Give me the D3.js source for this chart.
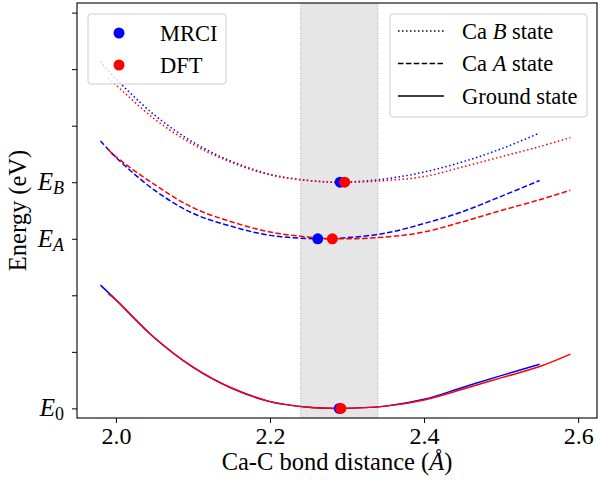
<!DOCTYPE html>
<html lang="en">
<head>
  <meta charset="UTF-8">
  <title>Ca-C potential energy curves</title>
  <script src="https://d3js.org/d3.v7.min.js"></script>
  <style>
    body { margin: 0; background: #ffffff; }
    svg text { font-family: "Liberation Serif", "Times New Roman", serif; fill: #000; }
  </style>
</head>
<body>
<svg width="598" height="480"></svg>

<script>
  // bond distance (Å) and energy (in tick units: E0 = 0, EA = 3, EB = 4)
  const groundMrciX = [1.98, 2.00, 2.05, 2.10, 2.15, 2.20, 2.25, 2.29, 2.35, 2.40, 2.45, 2.50, 2.55];
  const groundMrciY = [2.18, 1.92, 1.25, 0.73, 0.36, 0.12, 0.02, 0.00, 0.04, 0.16, 0.37, 0.58, 0.78];
  const groundDftX = [1.99, 2.00, 2.05, 2.10, 2.15, 2.20, 2.25, 2.29, 2.35, 2.40, 2.45, 2.50, 2.55, 2.59];
  const groundDftY = [2.03, 1.92, 1.25, 0.73, 0.36, 0.12, 0.02, 0.00, 0.04, 0.15, 0.34, 0.54, 0.74, 0.96];

  const aMrciX = [1.98, 2.00, 2.05, 2.10, 2.15, 2.20, 2.262, 2.30, 2.35, 2.40, 2.45, 2.50, 2.55];
  const aMrciY = [4.73, 4.44, 3.86, 3.45, 3.22, 3.06, 3.00, 3.02, 3.10, 3.27, 3.48, 3.75, 4.03];
  const aDftX = [1.99, 2.00, 2.05, 2.10, 2.15, 2.20, 2.25, 2.281, 2.35, 2.40, 2.45, 2.50, 2.55, 2.59];
  const aDftY = [4.58, 4.45, 3.96, 3.55, 3.30, 3.12, 3.03, 3.00, 3.03, 3.12, 3.30, 3.50, 3.69, 3.86];

  const bMrciX = [1.98, 2.00, 2.05, 2.10, 2.15, 2.20, 2.25, 2.291, 2.35, 2.40, 2.45, 2.50, 2.55];
  const bMrciY = [6.13, 5.83, 5.19, 4.71, 4.37, 4.14, 4.03, 4.00, 4.06, 4.18, 4.36, 4.59, 4.87];
  const bDftX = [1.99, 2.00, 2.05, 2.10, 2.15, 2.20, 2.25, 2.297, 2.35, 2.40, 2.45, 2.50, 2.55, 2.59];
  const bDftY = [5.84, 5.72, 5.12, 4.67, 4.35, 4.13, 4.03, 4.00, 4.03, 4.10, 4.27, 4.45, 4.63, 4.79];

  // minima
  const minMrciX = [2.290, 2.262, 2.291];
  const minMrciY = [0, 3, 4];
  const minDftX = [2.292, 2.281, 2.297];
  const minDftY = [0, 3, 4];

  const spanX = [2.24, 2.34];
  const xTicks = [2.0, 2.2, 2.4, 2.6];
  const yTicks = [0, 1, 2, 3, 4, 5, 6, 7];
  const yTickLabels = { 0: ["E", "0"], 3: ["E", "A"], 4: ["E", "B"] };

  const svg = d3.select("svg");
  const m = { left: 77, right: 597, top: 3, bottom: 418 };

  const x = d3.scaleLinear().domain([1.9495, 2.6245]).range([m.left, m.right]);
  const y = d3.scaleLinear().domain([-0.17, 7.17]).range([m.bottom, m.top]);

  // shaded region
  svg.append("rect")
    .attr("x", x(spanX[0])).attr("y", m.top)
    .attr("width", x(spanX[1]) - x(spanX[0])).attr("height", m.bottom - m.top)
    .attr("fill", "#808080").attr("fill-opacity", 0.2);
  spanX.forEach(v => {
    svg.append("line")
      .attr("x1", x(v)).attr("x2", x(v)).attr("y1", m.top).attr("y2", m.bottom)
      .attr("stroke", "#aaaaaa").attr("stroke-width", 1).attr("stroke-dasharray", "1,1.5");
  });

  const line = d3.line()
    .x(d => x(d[0])).y(d => y(d[1]))
    .curve(d3.curveCatmullRom.alpha(0.5));

  const dotted = "1.5,2.5", dashed = "5.5,2.4";
  const series = [
    [groundMrciX, groundMrciY, "#0000ff", null],
    [groundDftX, groundDftY, "#ff0000", null],
    [aMrciX, aMrciY, "#0000ff", dashed],
    [aDftX, aDftY, "#ff0000", dashed],
    [bMrciX, bMrciY, "#0000ff", dotted],
    [bDftX, bDftY, "#ff0000", dotted]
  ];

  series.forEach(([xs, ys, color, dash]) => {
    svg.append("path")
      .datum(d3.zip(xs, ys))
      .attr("d", line)
      .attr("fill", "none")
      .attr("stroke", color)
      .attr("stroke-width", 1.5)
      .attr("stroke-dasharray", dash);
  });

  svg.selectAll(".mrci").data(d3.zip(minMrciX, minMrciY)).join("circle")
    .attr("class", "mrci")
    .attr("cx", d => x(d[0])).attr("cy", d => y(d[1])).attr("r", 5.5).attr("fill", "#0000ff");
  svg.selectAll(".dft").data(d3.zip(minDftX, minDftY)).join("circle")
    .attr("class", "dft")
    .attr("cx", d => x(d[0])).attr("cy", d => y(d[1])).attr("r", 5.5).attr("fill", "#ff0000");

  // axes
  const xAxis = svg.append("g")
    .attr("transform", `translate(0,${m.bottom})`)
    .call(d3.axisBottom(x).tickValues(xTicks).tickFormat(d3.format(".1f")).tickSize(5).tickPadding(4));
  xAxis.select(".domain").remove();
  xAxis.selectAll("line").attr("stroke", "#000");
  xAxis.selectAll("text").attr("font-size", 24).attr("font-family", "Liberation Serif");

  const yAxis = svg.append("g")
    .attr("transform", `translate(${m.left},0)`)
    .call(d3.axisLeft(y).tickValues(yTicks).tickFormat("").tickSize(5));
  yAxis.select(".domain").remove();
  yAxis.selectAll("line").attr("stroke", "#000");

  yTicks.filter(t => yTickLabels[t]).forEach(t => {
    const [base, sub] = yTickLabels[t];
    const txt = svg.append("text")
      .attr("x", 64).attr("y", y(t) + 8)
      .attr("text-anchor", "end")
      .attr("font-size", 25);
    txt.append("tspan").attr("font-style", "italic").text(base);
    txt.append("tspan").attr("font-size", 18).attr("dy", 4)
      .attr("font-style", sub === "0" ? "normal" : "italic").text(sub);
  });

  svg.append("rect")
    .attr("x", m.left).attr("y", m.top).attr("width", m.right - m.left).attr("height", m.bottom - m.top)
    .attr("fill", "none").attr("stroke", "#000").attr("stroke-width", 1.1);

  // axis labels
  const xl = svg.append("text")
    .attr("x", (m.left + m.right) / 2).attr("y", 470)
    .attr("text-anchor", "middle").attr("font-size", 24.5);
  xl.append("tspan").text("Ca-C bond distance (");
  xl.append("tspan").attr("font-style", "italic").text("Å");
  xl.append("tspan").text(")");

  svg.append("text")
    .attr("transform", `translate(26,${(m.top + m.bottom) / 2}) rotate(-90)`)
    .attr("text-anchor", "middle").attr("font-size", 24.5)
    .text("Energy (eV)");

  // legend: methods
  const methodNames = ["MRCI", "DFT"];
  const methodColors = ["#0000ff", "#ff0000"];
  svg.append("rect")
    .attr("x", 88).attr("y", 14).attr("width", 138).attr("height", 70).attr("rx", 3)
    .attr("fill", "#fff").attr("fill-opacity", 0.8).attr("stroke", "#cccccc");
  methodNames.forEach((name, i) => {
    const cy = 33 + i * 32;
    svg.append("circle").attr("cx", 119).attr("cy", cy).attr("r", 5.5).attr("fill", methodColors[i]);
    svg.append("text").attr("x", 160).attr("y", cy + 7.5).attr("font-size", 22.5).text(name);
  });

  // legend: states
  const stateNames = [["Ca ", "B", " state"], ["Ca ", "A", " state"], ["Ground state", "", ""]];
  const stateDash = [dotted, dashed, null];
  svg.append("rect")
    .attr("x", 390).attr("y", 14).attr("width", 197).attr("height", 103).attr("rx", 3)
    .attr("fill", "#fff").attr("fill-opacity", 0.8).attr("stroke", "#cccccc");
  stateNames.forEach((parts, i) => {
    const cy = 31 + i * 32.5;
    svg.append("line").attr("x1", 398).attr("x2", 444).attr("y1", cy).attr("y2", cy)
      .attr("stroke", "#000").attr("stroke-width", 1.5).attr("stroke-dasharray", stateDash[i]);
    const t = svg.append("text").attr("x", 462).attr("y", cy + 7.5).attr("font-size", 22.5);
    t.append("tspan").text(parts[0]);
    if (parts[1]) t.append("tspan").attr("font-style", "italic").text(parts[1]);
    if (parts[2]) t.append("tspan").text(parts[2]);
  });
</script>
</body>
</html>
